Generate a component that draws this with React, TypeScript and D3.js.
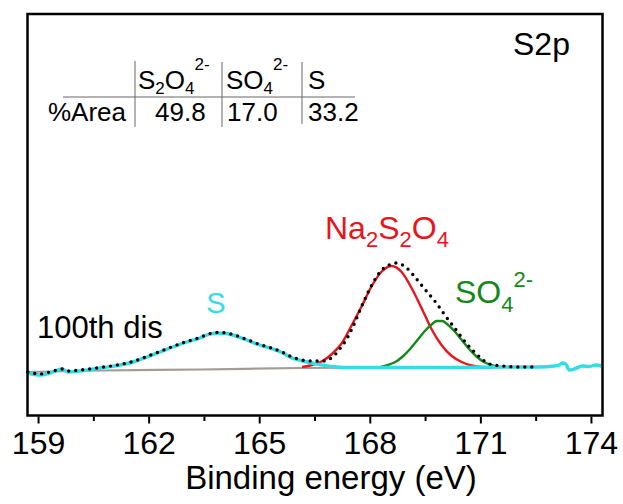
import React, { useEffect, useRef } from 'react';
import * as d3 from 'd3';

const W = 623;
const H = 504;
const FONT = '"Liberation Sans", Arial, sans-serif';
const RED = '#e8161c';
const GREEN = '#16871b';
const CYAN = '#33dde6';
const GREY = '#a29c98';

// axis
const xDomain = [158.7, 174.3];
const yDomain = [-0.475, 3.54];
const majorTicks = [159, 162, 165, 168, 171, 174];
const minorTicks = [160.5, 163.5, 166.5, 169.5, 172.5];

// [binding energy eV, intensity a.u.]
const sCurve = [
  [158.71, -0.05], [159.04, -0.07], [159.31, -0.05], [159.64, -0.01], [159.8, -0.04], [160.12, -0.03],
  [160.67, 0.0], [161.21, 0.03], [161.56, 0.06], [161.94, 0.11], [162.29, 0.16], [162.64, 0.21],
  [163.02, 0.26], [163.38, 0.3], [163.57, 0.33], [163.86, 0.35], [164.08, 0.345], [164.27, 0.33],
  [164.65, 0.28], [165.0, 0.23], [165.27, 0.2], [165.63, 0.15], [165.82, 0.11], [166.28, 0.06],
  [166.63, 0.035], [166.98, 0.015], [167.36, 0.005], [167.97, 0.005], [168.79, 0.005], [170.15, 0.005],
  [171.51, 0.01], [172.59, 0.01], [173.0, 0.02], [173.13, 0.03], [173.21, 0.05], [173.3, 0.04],
  [173.4, -0.02], [173.53, -0.01], [173.75, 0.02], [173.94, 0.015], [174.13, 0.03], [174.27, 0.02],
];
const s2o4Curve = [
  [166.15, 0.01], [166.42, 0.03], [166.69, 0.067], [166.96, 0.14], [167.23, 0.25], [167.5, 0.43],
  [167.77, 0.62], [168.04, 0.82], [168.31, 0.965], [168.58, 1.02], [168.85, 0.96], [169.12, 0.8],
  [169.39, 0.6], [169.66, 0.39], [169.93, 0.23], [170.21, 0.12], [170.48, 0.06], [170.75, 0.025],
  [171.02, 0.01], [171.29, 0.003],
];
const so4Curve = [
  [168.28, 0.01], [168.48, 0.03], [168.68, 0.06], [168.88, 0.115], [169.08, 0.19], [169.28, 0.28],
  [169.48, 0.37], [169.68, 0.44], [169.8, 0.47], [169.95, 0.47], [170.08, 0.44], [170.28, 0.37],
  [170.48, 0.28], [170.68, 0.19], [170.88, 0.115], [171.08, 0.06], [171.28, 0.03], [171.48, 0.01],
];
const envelope = [
  [158.71, -0.04], [159.04, -0.06], [159.31, -0.04], [159.64, -0.01], [159.8, -0.03], [160.12, -0.02],
  [160.67, 0.005], [161.21, 0.035], [161.56, 0.065], [161.94, 0.115], [162.29, 0.165], [162.64, 0.215],
  [163.02, 0.265], [163.38, 0.305], [163.57, 0.335], [163.86, 0.355], [164.08, 0.35], [164.27, 0.335],
  [164.65, 0.285], [165.0, 0.235], [165.27, 0.205], [165.63, 0.155], [165.82, 0.12], [166.15, 0.08],
  [166.44, 0.07], [166.71, 0.07], [166.98, 0.11], [167.17, 0.19], [167.36, 0.29], [167.55, 0.43],
  [167.77, 0.62], [168.04, 0.83], [168.31, 0.98], [168.58, 1.04], [168.7, 1.05], [168.99, 1.0],
  [169.21, 0.91], [169.43, 0.81], [169.79, 0.65], [170.06, 0.51], [170.33, 0.38], [170.6, 0.25],
  [170.97, 0.11], [171.24, 0.04], [171.6, 0.02], [172.0, 0.01], [172.5, 0.01],
];
const background = [
  [158.7, -0.04], [160.7, -0.025], [163.4, -0.015], [166.1, 0.0], [168.8, 0.005], [171.5, 0.008], [172.5, 0.01],
];

// %Area table
const tableCols = ['S2O4', 'SO4', 'S'];
const tableArea = ['49.8', '17.0', '33.2'];

type Part = { t: string; sub?: boolean; sup?: boolean };

const App = () => {
  const ref = useRef<SVGSVGElement>(null);

  useEffect(() => {
    const svg = d3.select(ref.current);
    svg.selectAll('*').remove();

    const x = d3.scaleLinear().domain(xDomain).range([27.5, 602.5]);
    const y = d3.scaleLinear().domain(yDomain).range([415.5, 14]);

    const line = d3.line<number[]>()
      .x(d => x(d[0]))
      .y(d => y(d[1]))
      .curve(d3.curveMonotoneX);

    const drawLine = (data: number[][], color: string, w: number) =>
      svg.append('path').attr('d', line(data)).attr('fill', 'none')
        .attr('stroke', color).attr('stroke-width', w).attr('stroke-linejoin', 'round');

    drawLine(background, GREY, 2.2);
    drawLine(s2o4Curve, RED, 2.4);
    drawLine(so4Curve, GREEN, 2.4);
    drawLine(sCurve, CYAN, 3.4);
    drawLine(envelope, '#000', 3.4)
      .attr('stroke-dasharray', '0 7')
      .attr('stroke-linecap', 'round');

    // frame
    svg.append('rect').attr('x', 27.5).attr('y', 14).attr('width', 575).attr('height', 401.5)
      .attr('fill', 'none').attr('stroke', '#000').attr('stroke-width', 2.5);

    // x axis ticks (outside)
    const ax = svg.append('g').attr('transform', 'translate(0,416.5)');
    ax.selectAll('.maj').data(majorTicks).enter().append('line')
      .attr('x1', d => x(d)).attr('x2', d => x(d)).attr('y1', 0).attr('y2', 7)
      .attr('stroke', '#000').attr('stroke-width', 2);
    ax.selectAll('.min').data(minorTicks).enter().append('line')
      .attr('x1', d => x(d)).attr('x2', d => x(d)).attr('y1', 0).attr('y2', 4.5)
      .attr('stroke', '#000').attr('stroke-width', 2);
    ax.selectAll('text').data(majorTicks).enter().append('text')
      .attr('x', d => x(d)).attr('y', 37.5).attr('text-anchor', 'middle')
      .attr('font-family', FONT).attr('font-size', 32).text(d => d);

    svg.append('text').attr('x', 331).attr('y', 489).attr('text-anchor', 'middle')
      .attr('font-family', FONT).attr('font-size', 33).text('Binding energy (eV)');

    const rich = (px: number, py: number, size: number, small: number, subOff: number, supOff: number, parts: Part[], color: string) => {
      const t = svg.append('text').attr('x', px).attr('y', py)
        .attr('font-family', FONT).attr('font-size', size).attr('fill', color);
      let cur = 0;
      parts.forEach(p => {
        const off = p.sub ? subOff : p.sup ? supOff : 0;
        t.append('tspan').attr('dy', off - cur)
          .attr('font-size', p.sub || p.sup ? small : size).text(p.t);
        cur = off;
      });
      return t;
    };

    rich(513, 55, 32, 32, 0, 0, [{ t: 'S2p' }], '#000');
    rich(37, 338, 31, 31, 0, 0, [{ t: '100th dis' }], '#000');
    svg.append('text').attr('x', 216).attr('y', 313).attr('text-anchor', 'middle')
      .attr('font-family', FONT).attr('font-size', 29).attr('fill', CYAN).text('S');
    rich(325, 239, 32, 22, 8, 0,
      [{ t: 'Na' }, { t: '2', sub: true }, { t: 'S' }, { t: '2', sub: true }, { t: 'O' }, { t: '4', sub: true }], RED);
    rich(455, 303, 32, 22, 9, -16,
      [{ t: 'SO' }, { t: '4', sub: true }, { t: '2-', sup: true }], GREEN);

    // table
    const tg = svg.append('g');
    const colX = [138, 226, 308];
    const header: Part[][] = [
      [{ t: 'S' }, { t: '2', sub: true }, { t: 'O' }, { t: '4', sub: true }, { t: '2-', sup: true }],
      [{ t: 'SO' }, { t: '4', sub: true }, { t: '2-', sup: true }],
      [{ t: tableCols[2] }],
    ];
    header.forEach((h, i) => rich(colX[i], 89, 26, 17, 5, -19, h, '#000'));
    rich(48, 121, 26, 26, 0, 0, [{ t: '%Area' }], '#000');
    const valX = [155, 227, 308];
    tableArea.forEach((v, i) => rich(valX[i], 121, 26, 26, 0, 0, [{ t: v }], '#000'));

    tg.append('line').attr('x1', 63).attr('x2', 355).attr('y1', 97).attr('y2', 97)
      .attr('stroke', '#666').attr('stroke-width', 1);
    [[135, 61, 127], [222, 62, 127], [302, 62, 124]].forEach(([lx, a, b]) =>
      tg.append('line').attr('x1', lx).attr('x2', lx).attr('y1', a).attr('y2', b)
        .attr('stroke', '#666').attr('stroke-width', 1));
  });

  return (
    <svg ref={ref} width={W} height={H}
      style={{ position: 'absolute', left: 0, top: 0, background: '#fff' }} />
  );
};

export default App;
